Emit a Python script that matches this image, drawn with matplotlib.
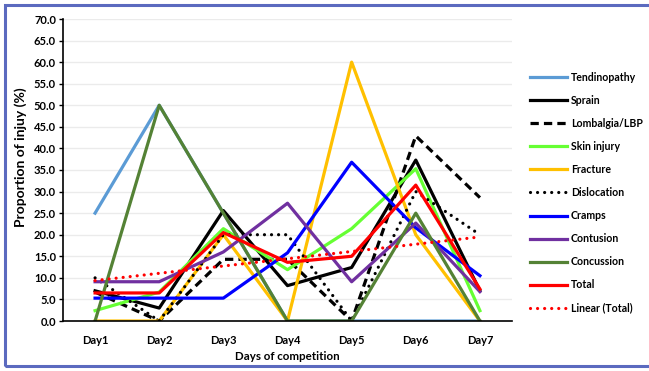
import numpy as np
import matplotlib
matplotlib.use("Agg")
import matplotlib.pyplot as plt
from matplotlib.patches import Rectangle

days = ["Day1", "Day2", "Day3", "Day4", "Day5", "Day6", "Day7"]
tendinopathy = [25.0, 50.0, 25.0, 0.0, 0.0, 0.0, 0.0]
sprain = [7.0, 3.0, 25.6, 8.2, 12.4, 37.3, 7.0]
lombalgia = [6.7, 0.0, 14.3, 14.3, 0.0, 42.9, 28.6]
skin_injury = [2.4, 6.7, 21.4, 11.9, 21.4, 35.3, 2.4]
fracture = [0.0, 0.0, 20.0, 0.0, 60.0, 20.0, 0.0]
dislocation = [10.0, 0.0, 20.0, 20.0, 0.0, 30.0, 20.0]
cramps = [5.3, 5.3, 5.3, 15.8, 36.8, 21.6, 10.5]
contusion = [9.1, 9.1, 16.0, 27.3, 9.1, 22.7, 6.8]
concussion = [0.0, 50.0, 25.0, 0.0, 0.0, 25.0, 0.0]
total = [6.5, 6.5, 20.5, 13.6, 15.0, 31.5, 7.4]

plt.rcParams['font.family'] = ['Lato', 'DejaVu Sans']
fig = plt.figure(figsize=(6.49, 3.71), dpi=100)
ax = fig.add_axes([63/649, 50/371, (512-63)/649, (321-19)/371])

x = np.arange(len(days))
lw = 2.3
series = [
    ("Tendinopathy", tendinopathy, dict(color="#5b9bd5", lw=lw)),
    ("Sprain", sprain, dict(color="black", lw=lw)),
    ("Lombalgia/LBP", lombalgia, dict(color="black", lw=lw, dashes=(2.6, 1.6))),
    ("Skin injury", skin_injury, dict(color="#66ff33", lw=lw)),
    ("Fracture", fracture, dict(color="#ffc000", lw=lw)),
    ("Dislocation", dislocation, dict(color="black", lw=lw, dashes=(0.01, 2.2), dash_capstyle="round")),
    ("Cramps", cramps, dict(color="#0000ff", lw=lw)),
    ("Contusion", contusion, dict(color="#7030a0", lw=lw)),
    ("Concussion", concussion, dict(color="#548235", lw=lw)),
    ("Total", total, dict(color="#ff0000", lw=lw)),
]
for name, vals, kw in series:
    ax.plot(x, vals, label=name, **kw)

coef = np.polyfit(x, total, 1)
ax.plot(x, np.polyval(coef, x), color="#ff0000", lw=lw, dashes=(0.01, 2.2),
        dash_capstyle="round", label="Linear (Total)")

fs = 8.0
ax.set_xlim(-0.5, 6.5)
ax.set_ylim(0, 70)
ax.set_yticks(np.arange(0, 70.1, 5))
ax.set_yticklabels([f"{v:.1f}" for v in np.arange(0, 70.1, 5)], fontsize=fs, fontweight="bold")
ax.set_xticks(x)
ax.set_xticklabels(days, fontsize=fs, fontweight="bold")
ax.tick_params(axis="x", length=0, pad=10)
ax.tick_params(axis="y", length=3, width=1, pad=2)
ax.grid(axis="y", color="#ebebeb", lw=1)
ax.set_axisbelow(True)
for s in ["top", "right"]:
    ax.spines[s].set_visible(False)
ax.spines["left"].set_linewidth(1.2)
ax.spines["bottom"].set_linewidth(1.2)
ax.set_ylabel("Proportion of injuy (%)", fontsize=10.0, fontweight="bold")
ax.yaxis.set_label_coords(-0.080, 0.543)
ax.set_xlabel("Days of competition", fontsize=8.3, fontweight="bold", labelpad=4)

lfs = 7.6
leg = fig.legend(loc="upper left", bbox_to_anchor=(530/649, 1 - 72/371), frameon=False,
                 prop=dict(size=lfs, weight="bold"), handlelength=3.5, handletextpad=0.35,
                 labelspacing=1.14, borderpad=0, borderaxespad=0)

fig.patches.append(Rectangle((5/649, 5/371), 1.0, 361/371, transform=fig.transFigure,
                             fill=False, edgecolor="#5b6abf", lw=2.2))
fig.savefig("out.png", dpi=100)
